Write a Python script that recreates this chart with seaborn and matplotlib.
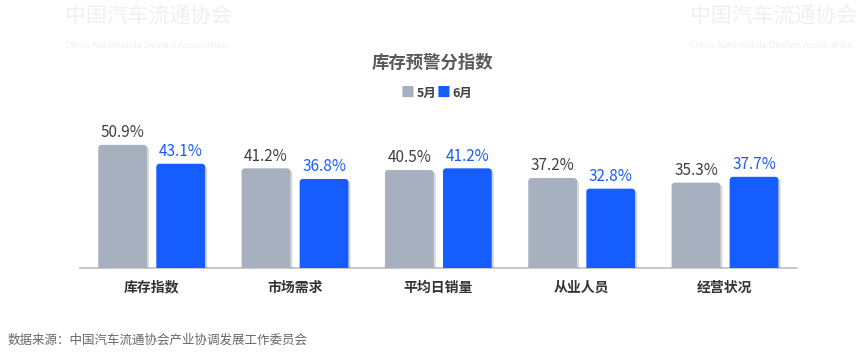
import matplotlib
matplotlib.use("Agg")
import matplotlib.pyplot as plt
import matplotlib.patheffects as pe
from matplotlib.patches import FancyBboxPatch
import pandas as pd
import seaborn as sns

categories = ["库存指数", "市场需求", "平均日销量", "从业人员", "经营状况"]
may_values = [50.9, 41.2, 40.5, 37.2, 35.3]
june_values = [43.1, 36.8, 41.2, 32.8, 37.7]
series_names = ["5月", "6月"]
colors = {"5月": "#A7B0BE", "6月": "#165DFF"}
label_colors = {"5月": "#404040", "6月": "#165DFF"}

sns.set_style("white")
plt.rcParams["font.family"] = ["Noto Sans CJK SC", "DejaVu Sans"]

df = pd.DataFrame({
    "category": categories * 2,
    "value": may_values + june_values,
    "month": [series_names[0]] * len(categories) + [series_names[1]] * len(categories),
})

fig = plt.figure(figsize=(8.65, 3.56), dpi=100)

# faint association watermarks in the top corners
wm_color = "#EFEFEF"
for x in [0.075, 0.798]:
    fig.text(x, 0.985, "中国汽车流通协会", ha="left", va="top", fontsize=15, color=wm_color)
    fig.text(x, 0.885, "China Automobile Dealers Association", ha="left", va="top",
             fontsize=6.6, color=wm_color)

ax = fig.add_axes([0.0925, 0.247, 0.8285, 0.444])
sns.barplot(data=df, x="category", y="value", hue="month", palette=colors, order=categories,
            hue_order=series_names, width=0.81, gap=0.16, ax=ax, legend=False, zorder=3)

ax.set_xlim(-0.5, len(categories) - 0.5)
ax.set_ylim(0, 65.3)

# swap plain rectangles for slightly rounded ones with a soft shadow
for container, name in zip(ax.containers, series_names):
    for bar in container:
        x, w, h = bar.get_x(), bar.get_width(), bar.get_height()
        rounded = FancyBboxPatch((x, -3), w, h + 3, boxstyle="round,pad=0,rounding_size=0.022",
                                 mutation_aspect=58, facecolor=colors[name], edgecolor="none", zorder=3,
                                 path_effects=[pe.SimplePatchShadow(offset=(1.5, -1.5), alpha=0.18), pe.Normal()])
        ax.add_patch(rounded)
        bar.set_visible(False)
        ax.text(x + w / 2, h + 1.5, f"{h:.1f}%", ha="center", va="bottom", fontsize=11,
                color=label_colors[name], zorder=4)

sns.despine(ax=ax, left=True, top=True, right=True)
ax.spines["bottom"].set_color("#BFBFBF")
ax.spines["bottom"].set_linewidth(1.2)
ax.set_yticks([])
ax.set_xticks(range(len(categories)))
ax.set_xticklabels(categories, fontsize=10, fontweight="bold", color="#333333")
ax.tick_params(axis="x", which="major", length=0, pad=9)
ax.set_xticks([i - 0.5 for i in range(len(categories) + 1)], minor=True)
ax.tick_params(axis="x", which="minor", length=4, width=1.2, color="#BFBFBF")
ax.set_xlabel("")
ax.set_ylabel("")

fig.text(0.5, 0.823, "库存预警分指数", ha="center", va="center", fontsize=12.5, fontweight="bold",
         color="#595959")

# legend: small squares with bold month labels
fig.text(0.4715, 0.738, "■", ha="center", va="center", fontsize=10, color=colors["5月"])
fig.text(0.482, 0.738, "5月", ha="left", va="center", fontsize=9, fontweight="bold", color="#404040")
fig.text(0.513, 0.738, "■", ha="center", va="center", fontsize=10, color=colors["6月"])
fig.text(0.5235, 0.738, "6月", ha="left", va="center", fontsize=9, fontweight="bold", color="#404040")

fig.text(0.009, 0.045, "数据来源：中国汽车流通协会产业协调发展工作委员会", ha="left", va="center",
         fontsize=9, color="#666666")

fig.savefig("out.png", dpi=100)
